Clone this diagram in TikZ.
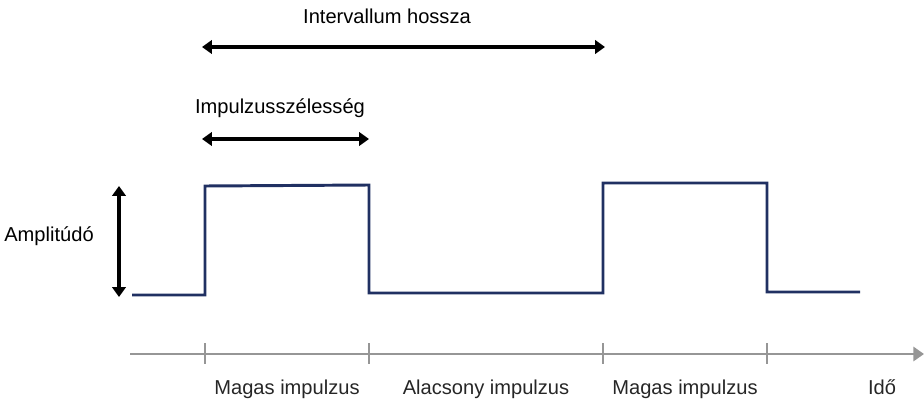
\documentclass[tikz,border=0pt]{standalone}
\usepackage{fontspec}
\setmainfont{Liberation Sans}
\usetikzlibrary{arrows.meta}

\begin{document}
\begin{tikzpicture}[font=\fontsize{14.3}{17}\selectfont,
  dim/.style={line width=2.3pt,{Triangle[length=7pt,width=9.5pt]}-{Triangle[length=7pt,width=9.5pt]}},
  pulse/.style={line width=2.1pt,color={rgb,255:red,32;green,48;blue,98},line join=miter},
  axis/.style={line width=1.8pt,color={rgb,255:red,150;green,150;blue,150}}]
  \useasboundingbox (0,0) rectangle (23.1,9.95);

  \coordinate (t0) at (3.25,1.1);
  \coordinate (t1) at (5.125,1.1);
  \coordinate (t2) at (9.225,1.1);
  \coordinate (t3) at (15.075,1.1);
  \coordinate (t4) at (19.175,1.1);
  \coordinate (tend) at (23.1,1.1);

  \draw[axis,-{Triangle[length=7.5pt,width=10pt]}] (t0) -- (tend);
  \foreach \t in {t1,t2,t3,t4}
    \draw[axis] ([yshift=0.275cm]\t) -- ([yshift=-0.25cm]\t);

  \node[anchor=base,text=black!85] (magas1) at (7.175,0.1) {Magas impulzus};
  \node[anchor=base,text=black!85] (alacsony) at (12.15,0.1) {Alacsony impulzus};
  \node[anchor=base,text=black!85] (magas2) at (17.125,0.1) {Magas impulzus};
  \node[anchor=base,text=black!85] (ido) at (22.05,0.1) {Idő};

  \draw[pulse] (3.3,2.575) -- (5.125,2.575) -- (5.125,5.3) -- (9.225,5.325)
    -- (9.225,2.625) -- (15.075,2.625) -- (15.075,5.375) -- (19.175,5.375)
    -- (19.175,2.65) -- (21.5,2.65);

  \coordinate (amptop) at (2.975,5.3);
  \coordinate (ampbot) at (2.975,2.525);
  \draw[dim] (ampbot) -- (amptop);
  \node[anchor=base] (amp) at (1.225,3.925) {Amplitúdó};

  \coordinate (szl) at (5.05,6.475);
  \coordinate (szr) at (9.225,6.475);
  \draw[dim] (szl) -- (szr);
  \node[anchor=base] (szel) at (7.0,7.1) {Impulzusszélesség};

  \coordinate (inl) at (5.05,8.775);
  \coordinate (inr) at (15.125,8.775);
  \draw[dim] (inl) -- (inr);
  \node[anchor=base] (interv) at (9.675,9.35) {Intervallum hossza};

\end{tikzpicture}
\end{document}
